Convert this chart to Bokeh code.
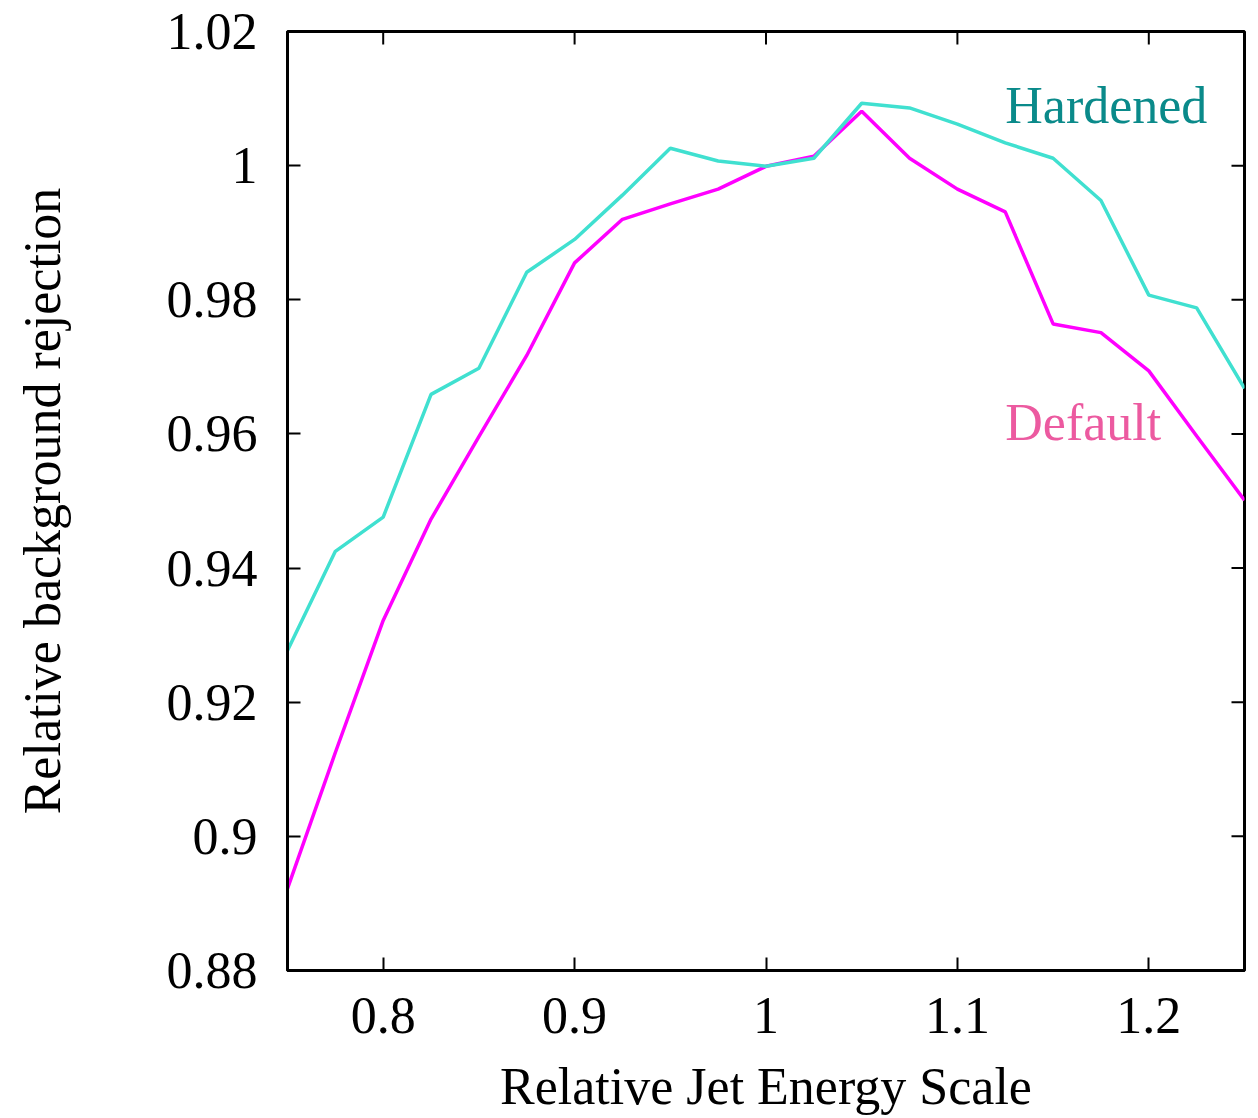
import math
from bokeh.plotting import figure
from bokeh.models import FixedTicker, Label, Range1d
from bokeh.embed import file_html
from bokeh.resources import INLINE

# ---- data ----
jes = [0.75, 0.775, 0.8, 0.825, 0.85, 0.875, 0.9, 0.925, 0.95, 0.975, 1.0,
       1.025, 1.05, 1.075, 1.1, 1.125, 1.15, 1.175, 1.2, 1.225, 1.25]
hardened = [0.9277, 0.9425, 0.9476, 0.9659, 0.9698, 0.9841, 0.9890, 0.9956, 1.0026, 1.0007, 0.9999,
            1.0011, 1.0093, 1.0086, 1.0062, 1.0034, 1.0011, 0.9948, 0.9807, 0.9788, 0.9668]
default = [0.8922, 0.9125, 0.9322, 0.9473, 0.9596, 0.9717, 0.9855, 0.9920, 0.9943, 0.9965, 0.9999,
           1.0014, 1.0081, 1.0011, 0.9965, 0.9931, 0.9764, 0.9751, 0.9694, 0.9597, 0.9501]
x_ticks = [0.8, 0.9, 1.0, 1.1, 1.2]
x_tick_labels = ["0.8", "0.9", "1", "1.1", "1.2"]
y_ticks = [0.88, 0.90, 0.92, 0.94, 0.96, 0.98, 1.00, 1.02]
y_tick_labels = ["0.88", "0.9", "0.92", "0.94", "0.96", "0.98", "1", "1.02"]
x_range = (0.75, 1.25)
y_range = (0.88, 1.02)

FONT = "Liberation Serif"
FS = "52px"

p = figure(width=1258, height=1118, output_backend="svg", toolbar_location=None,
           x_range=Range1d(*x_range), y_range=Range1d(*y_range),
           min_border_left=287, min_border_right=14, min_border_top=31, min_border_bottom=148,
           x_axis_label="Relative Jet Energy Scale", y_axis_label="Relative background rejection")
p.grid.visible = False
p.background_fill_color = "white"
p.border_fill_color = "white"
p.outline_line_color = "black"
p.outline_line_width = 3

p.line(jes, default, line_color="#FF00FF", line_width=3.5)
p.line(jes, hardened, line_color="#40E0D0", line_width=3.5)

def style(ax, ticks, labels):
    ax.ticker = FixedTicker(ticks=ticks)
    ax.major_label_overrides = {t: l for t, l in zip(ticks, labels)}
    ax.minor_tick_line_color = None
    ax.major_tick_in = 13
    ax.major_tick_out = 0
    ax.major_tick_line_width = 2
    ax.major_tick_line_color = "black"
    ax.axis_line_width = 3
    ax.axis_line_color = "black"
    ax.major_label_text_font = FONT
    ax.major_label_text_font_size = FS
    ax.major_label_text_color = "black"
    ax.axis_label_text_font = FONT
    ax.axis_label_text_font_size = FS
    ax.axis_label_text_font_style = "normal"
    ax.axis_label_text_color = "black"

style(p.xaxis[0], x_ticks, x_tick_labels)
style(p.yaxis[0], y_ticks, y_tick_labels)
p.xaxis[0].major_label_standoff = 27
p.yaxis[0].major_label_standoff = 30
p.xaxis[0].axis_label_standoff = 22
p.yaxis[0].axis_label_standoff = 93

# mirrored inward ticks on top and right edges
p.ray(x=x_ticks, y=[y_range[1]] * len(x_ticks), length=13, length_units="screen",
      angle=-math.pi / 2, line_color="black", line_width=2)
p.ray(x=[x_range[1]] * len(y_ticks), y=y_ticks, length=13, length_units="screen",
      angle=math.pi, line_color="black", line_width=2)

p.add_layout(Label(x=1.125, y=1.0090, text="Hardened", text_color="#0A8A8A",
                   text_font=FONT, text_font_size=FS, text_baseline="alphabetic"))
p.add_layout(Label(x=1.125, y=0.9617, text="Default", text_color="#EC5AA0",
                   text_font=FONT, text_font_size=FS, text_baseline="alphabetic"))

open("out.html", "w").write(file_html(p, INLINE))
